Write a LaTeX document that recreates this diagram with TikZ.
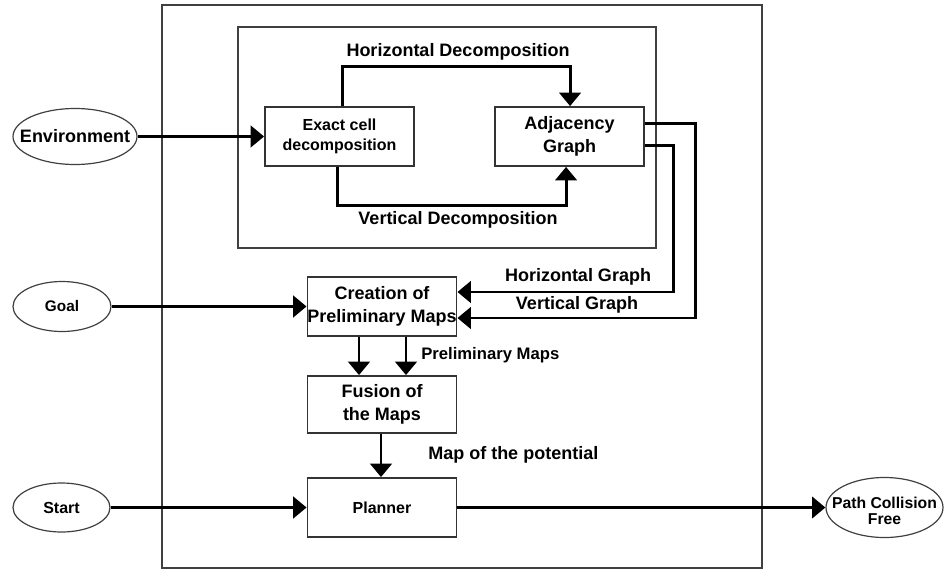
\documentclass[tikz,border=0pt]{standalone}
\usepackage{fontspec}
\setmainfont{Liberation Sans}
\usetikzlibrary{arrows.meta,shapes.geometric,calc}
% centred text of zero width, so that an ellipse keeps its given size
\newcommand{\flatlabel}[1]{\makebox[0pt]{#1}}
\newcommand{\flatpair}[2]{\makebox[0pt]{\raisebox{-7pt}[0pt][0pt]{\begin{tabular}{@{}c@{}}#1\\#2\end{tabular}}}}
\begin{document}
\begin{tikzpicture}[x=0.75pt,y=-0.75pt,
  frame/.style={draw=black!75,line width=1.6pt},
  block/.style={draw=black!80,line width=1.4pt,minimum width=149*0.75pt,minimum height=59*0.75pt,
    inner sep=0pt,align=center,font=\bfseries\fontsize{13.5}{17.5}\selectfont},
  term/.style={ellipse,draw=black!75,line width=0.9pt,inner sep=0pt,
    font=\bfseries\fontsize{13.5}{12}\selectfont},
  conn/.style={line width=2.2pt,-{Triangle[length=10pt,width=16pt]}},
  lbl/.style={font=\bfseries\fontsize{13.5}{16}\selectfont,inner sep=0pt}]
\useasboundingbox (0,0) rectangle (944,571);

% frames
\draw[frame] (162,5) rectangle (762,568);
\draw[frame] (238,27) rectangle (656,248);

% blocks
\node[block,font=\bfseries\fontsize{12}{14.5}\selectfont] (exact) at (339.5,136.5) {Exact cell\\decomposition};
\node[block] (adj) at (569.5,136.5) {Adjacency\\Graph};
\node[block] (create) at (382,306.5) {Creation of\\Preliminary Maps};
\node[block,minimum height=57*0.75pt] (fusion) at (382,404.5) {Fusion of\\the Maps};
\node[block,font=\bfseries\fontsize{12}{14}\selectfont] (plan) at (382,507.5) {Planner};

% terminals
\node[term,minimum width=124*0.75pt,minimum height=56*0.75pt] (env) at (75,136.5) {\flatlabel{Environment}};
\node[term,minimum width=98*0.75pt,minimum height=50*0.75pt,font=\bfseries\fontsize{11.5}{12}\selectfont] (goal) at (62,306.5) {\flatlabel{Goal}};
\node[term,minimum width=97*0.75pt,minimum height=49*0.75pt,font=\bfseries\fontsize{12}{12}\selectfont] (start) at (61.5,507.5) {\flatlabel{Start}};
\node[term,minimum width=117*0.75pt,minimum height=60*0.75pt,font=\bfseries\fontsize{11.8}{12}\selectfont] (path) at (884.5,507.5) {\flatpair{Path Collision}{Free}};

% connectors
\draw[conn] (env) -- (exact);
\draw[conn] ($(exact.north west)+(78,0)$) |- ($(adj.north west)+(76,-40)$) -- ($(adj.north west)+(76,0)$);
\draw[conn] ($(exact.south west)+(73,0)$) |- ($(adj.south west)+(72,39)$) -- ($(adj.south west)+(72,0)$);
\draw[conn] ($(adj.north east)+(0,17)$) -- ++(51,0) |- ($(create.east)+(0,11.5)$);
\draw[conn] ($(adj.north east)+(0,39)$) -- ++(29,0) |- ($(create.east)+(0,-14.5)$);
\draw[conn] (goal) -- (create);
\draw[conn] ($(create.south)+(-23,0)$) -- ($(fusion.north)+(-23,0)$);
\draw[conn] ($(create.south)+(24,0)$) -- ($(fusion.north)+(24,0)$);
\draw[conn] ($(fusion.south)+(-1,0)$) -- ($(plan.north)+(-1,0)$);
\draw[conn] (start) -- (plan);
\draw[conn] (plan) -- (path);

% labels
\node[lbl] (lhd) at (458,52) {Horizontal Decomposition};
\node[lbl] (lvd) at (458,220) {Vertical Decomposition};
\node[lbl] (lhg) at (578,277) {Horizontal Graph};
\node[lbl] (lvg) at (577,305) {Vertical Graph};
\node[lbl,anchor=west,font=\bfseries\fontsize{12.5}{14}\selectfont] (lpm) at (421,355) {Preliminary Maps};
\node[lbl,anchor=west] (lmp) at (428,455) {Map of the potential};
\end{tikzpicture}
\end{document}
